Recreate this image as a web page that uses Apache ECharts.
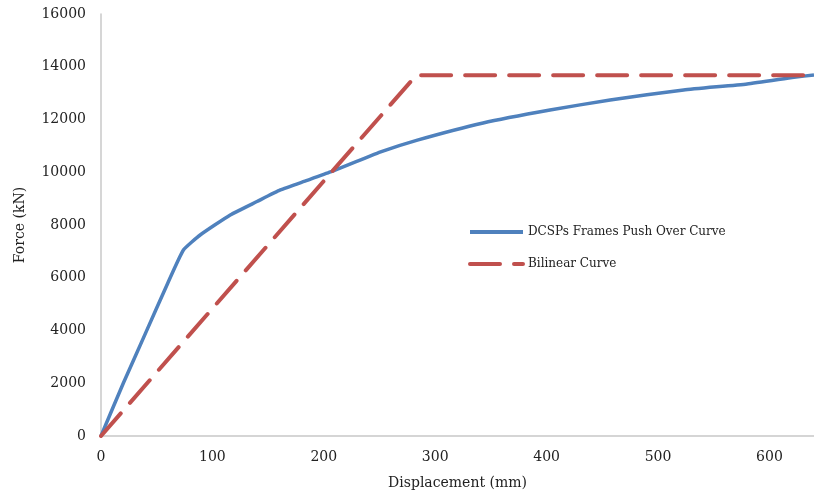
<!DOCTYPE html>
<html>
<head>
<meta charset="utf-8">
<script src="https://cdn.jsdelivr.net/npm/echarts@6/dist/echarts.min.js"></script>
<style>
  html, body { margin: 0; padding: 0; background: #fff; }
  #chart { width: 814px; height: 495px; }
</style>
</head>
<body>
<div id="chart"></div>
<script>
// pushover curve (displacement mm, force kN)
var pushDisp = [0, 20, 40, 60, 74, 89, 116, 140, 161, 185, 206, 251, 284, 343, 403, 457, 523, 580, 622, 640];
var pushForce = [0, 2000, 3900, 5800, 7050, 7620, 8380, 8890, 9330, 9690, 10010, 10770, 11220, 11870, 12360, 12740, 13120, 13350, 13600, 13690];
// bilinear idealisation
var biDisp = [0, 283, 640];
var biForce = [0, 13680, 13680];

var font = 'DejaVu Serif';

function pairs(xs, ys) {
  return xs.map(function (x, i) { return [x, ys[i]]; });
}
function plain(v) { return String(v); }

var chart = echarts.init(document.getElementById('chart'));
chart.setOption({
  animation: false,
  textStyle: { fontFamily: font },
  grid: { left: 101, right: 0, top: 14, bottom: 59 },
  legend: {
    orient: 'vertical',
    left: 463,
    top: 221,
    itemWidth: 53,
    itemHeight: 6,
    itemGap: 20,
    itemStyle: { opacity: 0 },
    lineStyle: { width: 4 },
    textStyle: { fontFamily: font, fontSize: 12, color: '#222' },
    data: ['DCSPs Frames Push Over Curve', 'Bilinear Curve']
  },
  xAxis: {
    type: 'value',
    min: 0,
    max: 640,
    interval: 100,
    name: 'Displacement (mm)',
    nameLocation: 'middle',
    nameGap: 40,
    nameTextStyle: { fontFamily: font, fontSize: 14, color: '#222' },
    axisLine: { lineStyle: { color: '#c8c8c8', width: 1.5 } },
    axisTick: { show: false },
    splitLine: { show: false },
    axisLabel: { fontFamily: font, fontSize: 14, color: '#222', margin: 14, showMaxLabel: false, formatter: plain }
  },
  yAxis: {
    type: 'value',
    min: 0,
    max: 16000,
    interval: 2000,
    name: 'Force (kN)',
    nameLocation: 'middle',
    nameGap: 74,
    nameTextStyle: { fontFamily: font, fontSize: 14, color: '#222' },
    axisLine: { show: true, lineStyle: { color: '#c8c8c8', width: 1.5 } },
    axisTick: { show: false },
    splitLine: { show: false },
    axisLabel: { fontFamily: font, fontSize: 14, color: '#222', margin: 15, formatter: plain }
  },
  series: [
    {
      name: 'DCSPs Frames Push Over Curve',
      type: 'line',
      data: pairs(pushDisp, pushForce),
      symbol: 'none',
      smooth: 0.15,
      lineStyle: { color: '#4f81bd', width: 3.5 },
      itemStyle: { color: '#4f81bd' }
    },
    {
      name: 'Bilinear Curve',
      type: 'line',
      data: pairs(biDisp, biForce),
      symbol: 'none',
      lineStyle: { color: '#c0504d', width: 4, type: [30, 14], cap: 'round' },
      itemStyle: { color: '#c0504d' }
    }
  ]
});
</script>
</body>
</html>
